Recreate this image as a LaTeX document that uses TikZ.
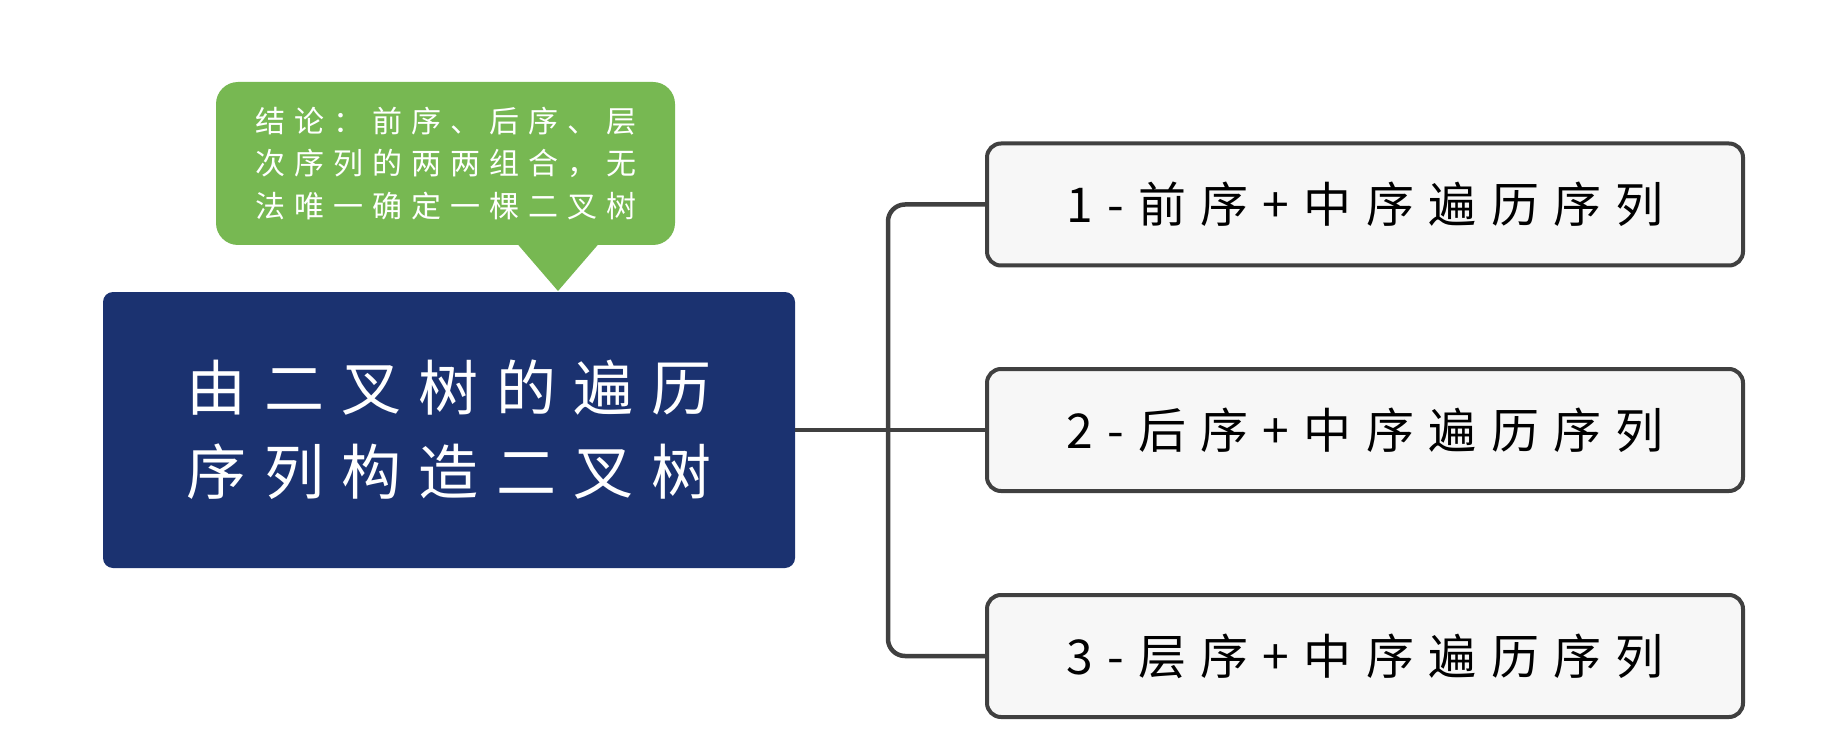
\documentclass[tikz,border=0pt]{standalone}
\usepackage{fontspec}
\newfontfamily\cjk{Noto Sans CJK SC}
\definecolor{navy}{HTML}{1B3270}
\definecolor{leaf}{HTML}{77B852}
\definecolor{edge}{HTML}{404040}
\definecolor{pale}{HTML}{F7F7F7}
\tikzset{
  mainbox/.style={draw=none, fill=navy, rounded corners=10pt, minimum width=692pt, minimum height=276pt, align=center, text=white, inner sep=0pt,
    font={\cjk\fontsize{60}{84}\selectfont\addfontfeature{LetterSpace=29}}},
  notebox/.style={draw=none, fill=leaf, rounded corners=22pt, minimum width=459pt, minimum height=163pt, align=center, text=white, inner sep=0pt,
    font={\cjk\fontsize{30}{42.5}\selectfont\addfontfeature{LetterSpace=30}}},
  itembox/.style={draw=edge, line width=4pt, fill=pale, rounded corners=14pt, minimum width=756pt, minimum height=122pt, inner sep=0pt, text=black,
    font={\cjk\fontsize{48}{56}\selectfont\addfontfeature{LetterSpace=30}}},
  conn/.style={draw=edge, line width=4.5pt}
}
\begin{document}
\begin{tikzpicture}[x=1pt,y=-1pt]
\useasboundingbox (0,0) rectangle (1832,754);
\fill[white] (0,0) rectangle (1832,754);
% callout
\node[notebox] (note) at (445.5,163.5) {结论：前序、后序、层\\次序列的两两组合，无\\法唯一确定一棵二叉树};
\coordinate (tip) at (558,291);
\fill[leaf] (514,240) -- (tip) -- (602,240) -- cycle;
% main
\node[mainbox] (main) at (449,430) {由二叉树的遍历\\序列构造二叉树};
% items
\node[itembox] (b1) at (1365,204.5) {1-前序+中序遍历序列};
\node[itembox] (b2) at (1365,430) {2-后序+中序遍历序列};
\node[itembox] (b3) at (1365,656) {3-层序+中序遍历序列};
% connectors
\draw[conn] (main.east) -- (b2.west);
\draw[conn, rounded corners=17pt] (b1.west) -- ([xshift=-97pt]b1.west) |- (b3.west);
\end{tikzpicture}
\end{document}
